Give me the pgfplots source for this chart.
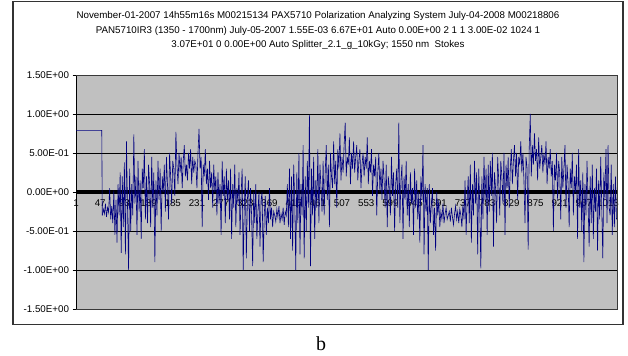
\documentclass[border=0pt]{standalone}
\usepackage{pgfplots}
\pgfplotsset{compat=1.18}
\usepackage{fontspec}
\setmainfont{Liberation Sans}
\newfontfamily\seriffont{Liberation Serif}
\definecolor{plotbg}{RGB}{192,192,192}
\definecolor{navyline}{RGB}{0,0,128}
\begin{document}
\begin{tikzpicture}
\useasboundingbox (0,-356bp) rectangle (628bp,0);
\draw[line width=1.5bp, black!80] (13bp,-1.5bp) rectangle (623bp,-324.5bp);
\node[align=center, font=\fontsize{9.8}{14.6}\selectfont] at (318bp,-30.7bp)
 {November-01-2007 14h55m16s M00215134 PAX5710 Polarization Analyzing System July-04-2008 M00218806\\
  PAN5710IR3 (1350 - 1700nm) July-05-2007 1.55E-03 6.67E+01 Auto 0.00E+00 2 1 1 3.00E-02 1024 1\\
  3.07E+01 0 0.00E+00 Auto Splitter\_2.1\_g\_10kGy; 1550 nm\ \ Stokes};
\node[font=\seriffont\fontsize{20}{24}\selectfont, anchor=base] at (321bp,-350bp) {b};
\begin{axis}[
  at={(76bp,-309bp)}, anchor=south west,
  scale only axis, width=541bp, height=234bp,
  xmin=1, xmax=1030, ymin=-1.5, ymax=1.5,
  clip=false,
  axis x line*=middle, axis y line*=left,
  hide obscured x ticks=false,
  axis background/.style={fill=plotbg},
  x axis line style={line width=3.5bp, black},
  y axis line style={line width=0.8bp, black},
  xtick={1,47,93,139,185,231,277,323,369,415,461,507,553,599,645,691,737,783,829,875,921,967,1013},
  xtick style={draw=none},
  xticklabel style={font=\fontsize{9.8}{10}\selectfont, yshift=-1bp, /pgf/number format/set thousands separator={}},
  ytick={-1.5,-1,-0.5,0,0.5,1,1.5},
  yticklabels={-1.50E+00,-1.00E+00,-5.00E-01,0.00E+00,5.00E-01,1.00E+00,1.50E+00},
  yticklabel style={font=\fontsize{9.8}{10}\selectfont},
  ytick style={black, line width=0.6bp},
  tick align=outside, major tick length=3.5bp,
  /pgf/number format/assume math mode=true,
  ymajorgrids, grid style={black, line width=0.6bp},
]
\draw[gray!45!black, line width=1bp] (rel axis cs:0,1) -- (rel axis cs:1,1) -- (rel axis cs:1,0) -- (rel axis cs:0,0);
\addplot[navyline, line width=0.6bp, mark=none] coordinates {(1,0.79) (50,0.79) (51,-0.30)};
\addplot[navyline, line width=0.6bp, mark=none] table[row sep=\\, x expr=\coordindex*2+51, y index=0] {
y\\
-0.30\\-0.22\\-0.28\\-0.15\\-0.32\\-0.20\\-0.26\\0.05\\-0.35\\-0.18\\
-0.40\\0.02\\-0.55\\-0.10\\-0.65\\0.10\\-0.30\\0.25\\-0.78\\0.20\\
-0.45\\0.38\\-0.80\\0.65\\-0.20\\-1.00\\0.30\\-0.50\\0.10\\-0.30\\
0.74\\-0.15\\0.20\\-0.55\\0.40\\-0.25\\0.15\\-0.60\\0.30\\0.05\\
0.55\\-0.35\\0.20\\-0.40\\0.35\\0.10\\-0.45\\0.45\\-0.20\\0.25\\
-0.90\\0.15\\-0.30\\0.40\\-0.10\\0.30\\-0.50\\0.20\\0.00\\0.35\\
-0.25\\0.45\\0.10\\-0.35\\0.50\\0.20\\-0.15\\0.40\\0.30\\-0.05\\
0.77\\0.35\\0.10\\0.50\\0.25\\0.45\\0.05\\0.40\\0.60\\0.20\\
0.35\\0.15\\0.50\\0.30\\0.55\\0.10\\0.45\\0.25\\0.40\\0.35\\
0.05\\0.50\\0.81\\0.30\\0.45\\-0.45\\0.35\\0.20\\0.55\\0.10\\
0.30\\-0.10\\0.40\\0.05\\0.25\\-0.20\\0.35\\0.00\\0.20\\-0.30\\
0.25\\-0.15\\0.10\\-0.55\\0.40\\-0.05\\0.20\\-0.40\\0.30\\-0.10\\
0.15\\-0.35\\0.30\\-0.60\\0.10\\-0.20\\0.35\\-0.45\\0.05\\-0.15\\
0.25\\-0.55\\-0.05\\0.30\\-1.00\\-0.20\\0.20\\-0.85\\-0.10\\0.15\\
-0.50\\0.05\\-0.30\\-0.95\\0.00\\-0.40\\0.10\\-0.60\\-0.25\\0.00\\
-0.70\\-0.10\\0.00\\-0.90\\-0.30\\-0.05\\-0.55\\-0.20\\-0.40\\0.05\\
-0.35\\-0.20\\-0.45\\-0.25\\-0.30\\-0.38\\-0.22\\-0.32\\-0.18\\-0.40\\
-0.28\\-0.35\\-0.20\\-0.42\\-0.25\\-0.30\\0.10\\-0.45\\0.30\\-0.60\\
0.20\\-0.75\\0.35\\-0.10\\-1.00\\0.25\\-0.40\\0.50\\-0.80\\0.10\\
-0.30\\0.60\\-0.85\\0.20\\-0.50\\0.40\\-0.20\\0.99\\-0.95\\0.30\\
-0.30\\0.45\\-0.60\\0.15\\-0.20\\0.55\\-0.40\\0.35\\0.05\\-0.25\\
0.40\\-0.30\\0.25\\0.60\\-0.10\\0.35\\-0.45\\0.50\\0.20\\0.05\\
0.65\\0.10\\0.40\\-0.20\\0.55\\0.30\\0.75\\0.15\\0.45\\0.25\\
0.60\\0.89\\0.20\\0.45\\0.35\\0.70\\0.10\\0.50\\0.30\\0.65\\
0.25\\0.45\\0.60\\0.15\\0.40\\0.55\\0.05\\0.35\\0.50\\0.20\\
0.45\\0.30\\0.70\\0.10\\0.40\\0.25\\0.55\\-0.05\\0.35\\0.20\\
0.45\\-0.30\\0.25\\0.50\\0.00\\0.30\\-0.10\\0.40\\0.15\\-0.20\\
0.35\\-0.45\\0.20\\0.05\\-0.30\\0.45\\-0.05\\0.25\\-0.50\\0.10\\
0.30\\-0.20\\0.89\\-0.40\\0.15\\0.35\\-0.60\\0.20\\-0.10\\0.40\\
-0.30\\0.10\\-0.45\\0.25\\-0.15\\0.05\\-0.55\\0.30\\-0.20\\0.15\\
-0.35\\0.00\\-0.65\\0.20\\-0.10\\0.60\\-0.80\\0.10\\-0.25\\0.05\\
-1.00\\0.10\\-0.40\\-0.15\\0.05\\-0.55\\-0.20\\-0.75\\0.00\\-0.30\\
-0.10\\-0.45\\-0.25\\-0.35\\-0.15\\-0.40\\-0.28\\-0.20\\-0.35\\-0.30\\
-0.25\\-0.38\\-0.20\\-0.32\\-0.42\\-0.28\\-0.18\\-0.35\\-0.25\\-0.40\\
-0.22\\-0.30\\-0.45\\-0.15\\-0.35\\0.15\\-0.55\\-0.10\\0.20\\-0.40\\
0.35\\-0.65\\0.10\\-0.30\\0.40\\-0.15\\0.25\\-0.80\\0.30\\-0.20\\
-0.98\\0.20\\-0.35\\0.45\\-0.10\\0.30\\-0.55\\0.35\\-0.25\\0.40\\
-0.05\\0.50\\-0.70\\0.25\\0.05\\-0.40\\0.45\\0.15\\-0.30\\0.40\\
0.20\\-0.15\\0.50\\-0.55\\0.35\\0.05\\0.45\\-0.20\\0.30\\0.55\\
0.10\\0.40\\0.60\\0.20\\0.50\\-0.10\\0.45\\0.35\\0.65\\0.25\\
0.50\\0.15\\-0.40\\0.45\\0.30\\-0.74\\0.55\\1.00\\0.20\\0.60\\
0.35\\0.75\\0.40\\0.55\\0.15\\0.70\\0.30\\0.45\\0.60\\0.25\\
0.50\\0.35\\0.65\\0.10\\0.45\\0.30\\0.55\\0.20\\0.40\\-0.50\\
0.35\\0.15\\0.50\\-0.10\\0.40\\0.25\\-0.35\\0.45\\0.05\\0.30\\
0.60\\-0.20\\0.35\\0.10\\-0.45\\0.30\\0.05\\0.50\\-0.30\\0.20\\
0.00\\0.35\\-0.60\\0.55\\-0.20\\0.15\\-0.50\\0.25\\-0.90\\0.10\\
-0.30\\0.40\\-0.15\\-0.70\\0.20\\-0.40\\0.35\\-0.60\\0.05\\-0.25\\
0.30\\-0.75\\0.15\\-0.35\\0.45\\-0.20\\-0.85\\0.25\\-0.10\\0.55\\
-0.40\\0.60\\-0.20\\-0.30\\0.35\\-0.55\\0.10\\-0.45\\0.20\\-0.35\\
};
\end{axis}
\end{tikzpicture}
\end{document}
